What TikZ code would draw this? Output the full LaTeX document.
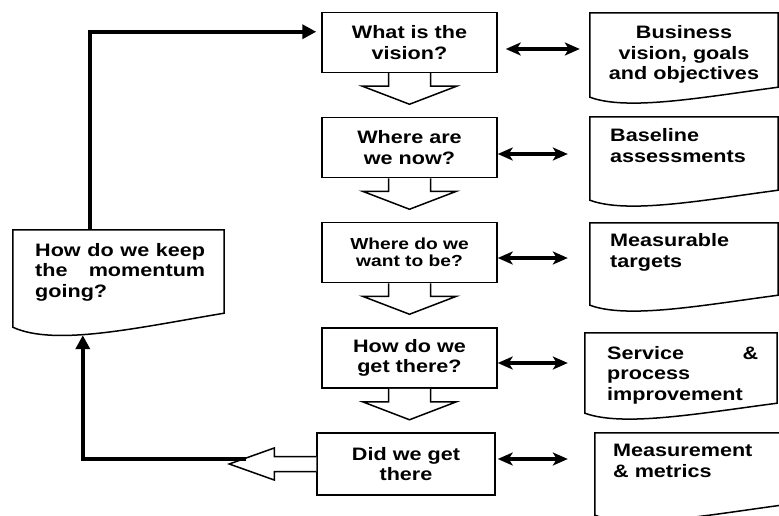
\documentclass[tikz,border=0pt]{standalone}
\usepackage{fontspec}
\setmainfont{Liberation Sans}[FakeStretch=1.2]
\usepackage{tikz}
\usetikzlibrary{arrows.meta, positioning, calc}
\hyphenpenalty=10000
\tikzset{
  qbox/.style={
    draw, line width=1.5pt, align=center, inner sep=0pt,
    minimum width=175pt, minimum height=60pt,
    font=\bfseries\fontsize{18}{20.5}\selectfont
  },
  docbox/.style={
    inner sep=0pt, minimum width=188pt
  },
  docline/.style={line width=1.5pt},
  doctext/.style={
    inner sep=0pt, align=left,
    font=\bfseries\fontsize{18}{20.5}\selectfont
  },
  hollow/.style={line width=1.5pt, fill=white},
  looparrow/.style={
    -{Triangle[length=14pt,width=14pt]}, line width=4pt
  },
  duoarrow/.style={
    {Stealth[length=15pt,width=13pt,inset=4pt]}-{Stealth[length=15pt,width=13pt,inset=4pt]},
    line width=3.5pt
  },
}
% document outline with a wavy foot: node, dip of the foot
\newcommand{\docoutline}[2]{%
  \draw[docline] ($(#1.south west)+(0,#2)$) -- (#1.north west)
    -- (#1.north east) -- (#1.south east)
    .. controls ($(#1.south west)!0.6!(#1.south east)+(0,#2)$)
           and ($(#1.south west)!0.2!(#1.south east)+(0,2.4*#2)$)
    .. ($(#1.south west)+(0,#2)$) -- cycle;
}

\begin{document}
\begin{tikzpicture}[x=1pt, y=-1pt]
  \useasboundingbox (0,0) rectangle (779,516);

  % -- question column ------------------------------------------
  \node[qbox] (q1) at (409.5, 42.5) {What is the\\vision?};
  \node[qbox] (q2) at (409.5, 147.5) {Where are\\we now?};
  \node[qbox, font=\bfseries\fontsize{16}{17.5}\selectfont]
    (q3) at (409.5, 252.5) {Where do we\\want to be?};
  \node[qbox] (q4) at (409.5, 358) {How do we\\get there?};
  \node[qbox, minimum width=178pt, minimum height=62pt]
    (q5) at (406, 464) {Did we get\\there};

  \foreach \a in {q1,q2,q3,q4}
    \draw[hollow] ($(\a.south)+(-21,0)$) -- ++(0,13) -- ++(-26,0)
      -- ($(\a.south)+(0,31)$) -- ++(47,-18) -- ++(-26,0) -- ++(0,-13);

  \draw[hollow] ($(q5.west)+(0,-7.5)$) -- ++(-42,0) -- ++(0,-8.5)
    -- ($(q5.west)+(-87,0)$) -- ++(45,16) -- ++(0,-8.5) -- ++(42,0);
  \coordinate (backtip) at ($(q5.west)+(-70,-5)$);

  % -- documents on the right -----------------------------------
  \node[docbox, minimum height=74pt] (d1) at (684, 50) {};
  \node[docbox, minimum height=73pt] (d2) at (684, 153.5) {};
  \node[docbox, minimum height=72pt] (d3) at (684, 259) {};
  \node[docbox, minimum width=192pt, minimum height=70pt] (d4) at (681, 368) {};
  \node[docbox, minimum width=186pt, minimum height=72pt] (d5) at (688, 469) {};
  \foreach \d in {d1,d2,d3,d4,d5}
    \docoutline{\d}{10};

  \node[doctext, align=center, anchor=north] (t1) at (684, 25.5)
    {Business\\vision, goals\\and objectives};
  \node[doctext, anchor=north west] (t2) at (610, 128.5)
    {Baseline\\assessments};
  \node[doctext, anchor=north west] (t3) at (610, 233.5)
    {Measurable\\targets};
  \node[doctext, anchor=north west, text width=151pt, align=justify]
    (t4) at (607, 346) {Service \& process improvement};
  \node[doctext, anchor=north west] (t5) at (613, 444)
    {Measurement\\\& metrics};

  \foreach \q/\d/\dy/\s/\e in {q1/d1/6.5/8/10, q2/d2/6.5/0/22,
      q3/d3/5.5/0/22, q4/d4/5/0/17, q5/d5/-5/2/27}
    \draw[duoarrow, shorten <=\s pt, shorten >=\e pt]
      ($(\q.east)+(0,\dy)$) -- ($(\q.east -| \d.west)+(0,\dy)$);

  % -- loop back --------------------------------------------------
  \node[docbox, minimum width=211pt, minimum height=83pt] (keep) at (118.5, 271.5) {};
  \docoutline{keep}{14}
  \node[doctext, anchor=north west, text width=170pt, align=justify]
    (keeptext) at (35, 243) {How do we keep the momentum going?};

  \draw[looparrow, shorten >=5pt]
    ($(keep.north west)+(77,0)$) |- ($(q1.north west)+(0,20)$);
  \draw[looparrow] (backtip) -| ($(keep.south west)+(70,22)$);
\end{tikzpicture}
\end{document}
